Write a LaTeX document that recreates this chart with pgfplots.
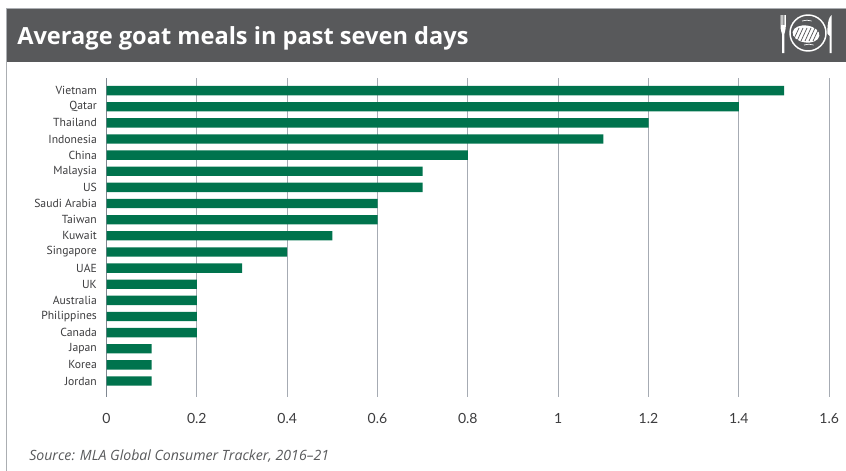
\documentclass[border=0pt]{standalone}
\usepackage{pgfplots}
\pgfplotsset{compat=1.18}
\usepackage{fontspec}
\setmainfont{Lato}
\newfontfamily\headfont{Open Sans}
\newfontfamily\catfont{PT Sans}
\definecolor{headergrey}{HTML}{58595B}
\definecolor{framegrey}{HTML}{ABAEB2}
\definecolor{gridgrey}{HTML}{A6ABB3}
\definecolor{zerogrey}{HTML}{7F8791}
\definecolor{barGreen}{HTML}{00734D}
\definecolor{labelgrey}{HTML}{3C3C3E}
\begin{document}
\begin{tikzpicture}[x=0.75pt,y=-0.75pt]
  % page frame, in pixel units measured from the top left corner
  \path[use as bounding box] (0,0) rectangle (846,471);
  \fill[headergrey] (6,9) rectangle (846,62);
  \draw[framegrey,line width=0.9pt] (6,8.2) -- (846,8.2);
  \draw[framegrey,line width=0.9pt] (6.5,8) -- (6.5,471);
  \node[anchor=west,text=white,font=\headfont\bfseries\fontsize{17.7}{24}\selectfont,inner sep=0pt] at (17,38) {Average goat meals in past seven days};
  % plate and cutlery emblem
  \begin{scope}[white]
    \draw[line width=1.1pt] (808,33) circle[radius=18];
    \draw[line width=0.5pt] (802,21) arc[start angle=250,end angle=290,radius=14];
    \draw[line width=0.5pt] (804,45) arc[start angle=250,end angle=290,radius=14];
    \fill[rotate around={-8:(806,34)}] (806,34) ellipse[x radius=13.5,y radius=8.5];
    \foreach \dx in {-10,-6,-2,2,6,10}
      \draw[headergrey,line width=0.55pt] (803+\dx,41) -- (809+\dx,28);
    \fill (780.5,15) -- (781.5,15) -- (781.5,25) -- (782.3,25) -- (782.3,15) -- (783.4,15) -- (783.4,25) -- (784.3,25) -- (784.3,15) -- (785.8,15) -- (785.8,26)
      .. controls (785.8,30) and (784.6,32) .. (784.4,34) -- (784.4,53) -- (782,53) -- (782,34) .. controls (781.6,32) and (780.5,30) .. (780.5,26) -- cycle;
    \fill (829.5,53) -- (831.5,53) -- (831.5,15) .. controls (828.5,17) and (827,26) .. (827.5,34) -- (829.5,36) -- cycle;
  \end{scope}
  \node[anchor=west,text=headergrey,font=\headfont\itshape\fontsize{10.6}{12}\selectfont,inner sep=0pt] at (29,456) {Source: MLA Global Consumer Tracker, 2016–21};
  \coordinate (plotcorner) at (106.5,397);
  \begin{axis}[
    at={(plotcorner)}, anchor=south west,
    scale only axis,
    width=542pt, height=239.25pt,
    xmin=0, xmax=1.6,
    ymin=-0.78, ymax=18.99,
    y dir=reverse,
    axis line style={draw=none},
    major tick length=0pt,
    xmajorgrids,
    grid style={gridgrey,line width=0.9pt},
    xbar, bar width=7pt,
    /pgf/number format/assume math mode=true,
    ytick={0,...,18},
    yticklabels={Vietnam,Qatar,Thailand,Indonesia,China,Malaysia,US,Saudi Arabia,Taiwan,Kuwait,Singapore,UAE,UK,Australia,Philippines,Canada,Japan,Korea,Jordan},
    y tick label style={font=\catfont\fontsize{8.75}{10}\selectfont,text=labelgrey,anchor=east,xshift=-3.7pt},
    xtick={0,0.2,0.4,0.6,0.8,1,1.2,1.4,1.6},
    xticklabels={0,0.2,0.4,0.6,0.8,1,1.2,1.4,1.6},
    x tick label style={font=\fontsize{10.5}{12}\selectfont,text=labelgrey,yshift=-8.7pt},
    extra x ticks={0},
    extra x tick labels={},
    extra x tick style={grid style={zerogrey,line width=0.9pt}},
  ]
    \addplot[draw=none, fill=barGreen] table[x=value, y=pos] {
      pos value
      0 1.5
      1 1.4
      2 1.2
      3 1.1
      4 0.8
      5 0.7
      6 0.7
      7 0.6
      8 0.6
      9 0.5
      10 0.4
      11 0.3
      12 0.2
      13 0.2
      14 0.2
      15 0.2
      16 0.1
      17 0.1
      18 0.1
    };
  \end{axis}
\end{tikzpicture}
\end{document}
